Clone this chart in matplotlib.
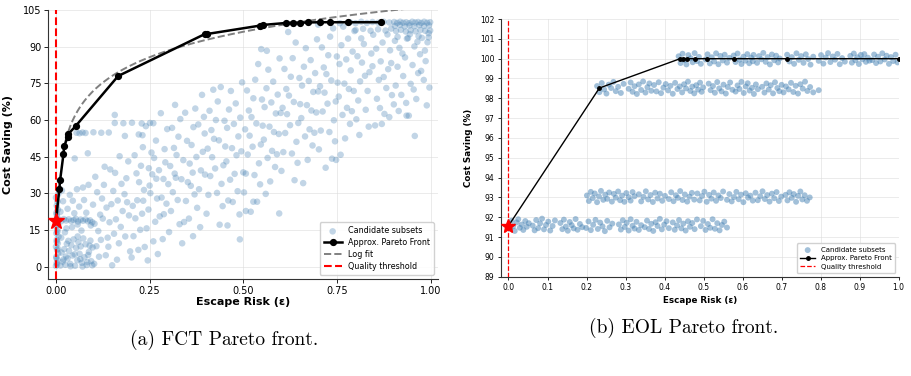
import numpy as np
import matplotlib
matplotlib.use("Agg")
import matplotlib.pyplot as plt

# ---------------- FCT panel ----------------
fct_cand = [
    # column at eps ~ 0
    (0.000, 0.3), (0.002, 1.5), (0.004, 2.8), (0.001, 4.1), (0.006, 5.5), (0.003, 6.9), (0.000, 8.2),
    (0.005, 9.6), (0.002, 11.0), (0.007, 12.3), (0.001, 13.7), (0.004, 15.1), (0.000, 16.4), (0.006, 17.2),
    (0.003, 20.5), (0.001, 22.1), (0.005, 23.4), (0.002, 25.0), (0.004, 26.6), (0.000, 28.3), (0.006, 29.7),
    (0.003, 0.9), (0.001, 3.5), (0.005, 7.4), (0.002, 10.2), (0.004, 14.3), (0.007, 18.9), (0.002, 21.4),
    # dense bottom-left
    (0.012, 0.5), (0.018, 2.1), (0.025, 0.8), (0.031, 3.4), (0.038, 1.2), (0.044, 4.6), (0.051, 0.4),
    (0.057, 2.7), (0.063, 5.3), (0.069, 1.6), (0.076, 3.9), (0.082, 0.7), (0.088, 6.1), (0.094, 2.3),
    (0.015, 5.8), (0.022, 7.2), (0.029, 9.4), (0.035, 6.5), (0.041, 8.8), (0.047, 11.2), (0.054, 7.7),
    (0.060, 10.1), (0.066, 8.3), (0.073, 11.6), (0.079, 9.2), (0.086, 4.8), (0.092, 10.7), (0.098, 7.9),
    (0.014, 11.9), (0.027, 4.2), (0.039, 0.2), (0.050, 5.1), (0.071, 0.1), (0.084, 1.9), (0.097, 0.6),
    (0.020, 3.0), (0.033, 10.6), (0.058, 12.4), (0.065, 3.1), (0.090, 8.6),
    # row near the star
    (0.008, 19.2), (0.014, 18.6), (0.021, 19.5), (0.027, 18.9), (0.034, 19.4), (0.041, 18.7), (0.047, 19.1),
    (0.053, 19.6), (0.059, 18.5), (0.066, 19.3), (0.072, 18.8), (0.079, 19.4), (0.085, 18.6), (0.091, 19.0),
    (0.097, 18.2), (0.103, 17.6),
    (0.012, 22.5), (0.019, 26.8), (0.024, 14.1), (0.031, 23.7), (0.037, 29.4), (0.043, 16.2), (0.049, 21.9),
    (0.056, 31.7), (0.062, 24.6), (0.068, 14.8), (0.075, 27.3), (0.081, 22.1), (0.087, 33.5), (0.093, 16.9),
    (0.099, 25.4), (0.016, 31.2), (0.045, 27.0), (0.072, 32.4), (0.028, 15.7), (0.058, 17.3),
    # rows at ~55 and ~59
    (0.055, 54.8), (0.063, 54.6), (0.071, 54.9), (0.079, 54.7), (0.100, 55.0), (0.121, 54.8), (0.141, 54.9),
    (0.157, 58.8), (0.180, 58.7), (0.203, 58.9), (0.229, 58.6), (0.251, 58.8), (0.260, 58.7), (0.157, 62.1),
    (0.184, 53.5), (0.221, 54.1), (0.231, 53.8),
    # 0.1 - 0.2
    (0.102, 1.2), (0.108, 8.4), (0.113, 14.6), (0.118, 21.3), (0.123, 27.9), (0.128, 33.5), (0.133, 4.7),
    (0.138, 11.9), (0.143, 18.2), (0.148, 25.6), (0.153, 31.0), (0.158, 38.4), (0.163, 2.9), (0.168, 9.6),
    (0.173, 16.3), (0.178, 22.8), (0.183, 29.7), (0.188, 36.2), (0.193, 43.1), (0.198, 6.3), (0.105, 36.8),
    (0.115, 4.1), (0.125, 19.7), (0.135, 24.2), (0.145, 39.8), (0.155, 13.5), (0.165, 27.1), (0.175, 33.9),
    (0.185, 12.4), (0.195, 21.0), (0.110, 30.5), (0.140, 8.2), (0.170, 45.2), (0.190, 26.4), (0.130, 40.9),
    (0.160, 19.4), (0.085, 46.4), (0.050, 44.3), (0.120, 11.0), (0.150, 0.6),
    # 0.2 - 0.3
    (0.202, 3.8), (0.207, 12.5), (0.212, 19.8), (0.217, 27.2), (0.222, 34.6), (0.227, 41.3), (0.232, 48.9),
    (0.237, 8.1), (0.242, 15.7), (0.247, 23.4), (0.252, 30.1), (0.257, 37.8), (0.262, 44.5), (0.267, 51.6),
    (0.272, 5.2), (0.277, 20.6), (0.282, 28.3), (0.287, 35.9), (0.292, 42.7), (0.297, 56.3), (0.205, 24.9),
    (0.215, 38.2), (0.225, 15.1), (0.235, 31.4), (0.245, 2.6), (0.255, 46.7), (0.265, 18.4), (0.275, 39.5),
    (0.285, 11.3), (0.295, 25.8), (0.210, 45.6), (0.230, 21.7), (0.250, 33.2), (0.270, 27.9), (0.290, 48.1),
    (0.240, 57.5), (0.260, 10.4), (0.280, 62.8), (0.220, 6.9), (0.300, 33.8), (0.248, 40.3), (0.268, 36.0),
    (0.288, 21.5), (0.233, 27.0),
    # 0.3 - 0.4
    (0.302, 14.2), (0.307, 22.8), (0.312, 30.5), (0.317, 38.1), (0.322, 45.7), (0.327, 53.2), (0.332, 60.4),
    (0.337, 9.6), (0.342, 18.3), (0.347, 26.9), (0.352, 34.6), (0.357, 42.2), (0.362, 49.8), (0.367, 57.1),
    (0.372, 64.7), (0.377, 24.1), (0.382, 31.7), (0.387, 39.4), (0.392, 47.0), (0.397, 54.5), (0.305, 41.2),
    (0.315, 48.6), (0.325, 27.3), (0.335, 35.8), (0.345, 63.0), (0.355, 19.7), (0.365, 38.5), (0.375, 44.9),
    (0.385, 16.2), (0.395, 61.3), (0.310, 56.8), (0.330, 17.4), (0.350, 51.5), (0.370, 29.6), (0.390, 70.3),
    (0.340, 43.6), (0.360, 33.1), (0.380, 58.2), (0.320, 36.4), (0.398, 37.7), (0.366, 12.5), (0.318, 66.2),
    # 0.4 - 0.5
    (0.402, 21.7), (0.407, 29.4), (0.412, 37.1), (0.417, 44.8), (0.422, 52.3), (0.427, 60.0), (0.432, 67.6),
    (0.437, 17.2), (0.442, 33.9), (0.447, 41.5), (0.452, 49.2), (0.457, 56.8), (0.462, 64.3), (0.467, 71.9),
    (0.472, 26.5), (0.477, 38.0), (0.482, 45.6), (0.487, 53.3), (0.492, 61.0), (0.497, 75.4), (0.405, 48.3),
    (0.415, 55.9), (0.425, 40.2), (0.435, 51.7), (0.445, 24.8), (0.455, 43.1), (0.465, 35.6), (0.475, 58.4),
    (0.485, 30.9), (0.495, 47.2), (0.410, 63.8), (0.430, 30.2), (0.450, 59.7), (0.470, 48.5), (0.490, 21.4),
    (0.440, 73.5), (0.460, 27.1), (0.480, 66.8), (0.420, 72.4), (0.491, 11.2), (0.500, 38.6), (0.458, 16.9),
    # 0.5 - 0.6
    (0.502, 30.4), (0.507, 38.1), (0.512, 45.9), (0.517, 53.6), (0.522, 61.2), (0.527, 68.9), (0.532, 76.5),
    (0.537, 26.6), (0.542, 42.3), (0.547, 50.0), (0.552, 57.7), (0.557, 65.3), (0.562, 73.0), (0.567, 80.6),
    (0.572, 34.9), (0.577, 47.4), (0.582, 55.1), (0.587, 62.7), (0.592, 70.4), (0.597, 85.2), (0.505, 56.2),
    (0.515, 63.9), (0.525, 49.1), (0.535, 58.6), (0.545, 33.7), (0.555, 52.0), (0.565, 44.5), (0.575, 67.2),
    (0.585, 40.8), (0.595, 54.3), (0.510, 72.1), (0.530, 37.5), (0.550, 68.4), (0.570, 57.3), (0.590, 46.0),
    (0.540, 82.9), (0.560, 29.8), (0.580, 75.7), (0.520, 22.5), (0.507, 22.8), (0.596, 21.8), (0.527, 26.6),
    (0.600, 62.9), (0.548, 89.0), (0.563, 88.3),
    # 0.6 - 0.7
    (0.602, 39.2), (0.607, 46.9), (0.612, 54.7), (0.617, 62.4), (0.622, 70.0), (0.627, 77.7), (0.632, 85.3),
    (0.637, 35.4), (0.642, 51.1), (0.647, 58.8), (0.652, 66.5), (0.657, 74.1), (0.662, 81.8), (0.667, 89.4),
    (0.672, 43.7), (0.677, 56.2), (0.682, 63.9), (0.687, 71.5), (0.692, 79.2), (0.697, 93.0), (0.605, 65.0),
    (0.615, 72.7), (0.625, 57.9), (0.635, 67.4), (0.645, 42.5), (0.655, 60.8), (0.665, 53.3), (0.675, 76.0),
    (0.685, 49.6), (0.695, 63.1), (0.610, 80.9), (0.630, 46.3), (0.650, 77.2), (0.670, 66.1), (0.690, 54.8),
    (0.640, 91.7), (0.660, 34.2), (0.680, 84.5), (0.620, 96.0), (0.700, 71.7),
    # 0.7 - 0.8
    (0.702, 48.0), (0.707, 55.7), (0.712, 63.5), (0.717, 71.2), (0.722, 78.8), (0.727, 86.5), (0.732, 94.1),
    (0.737, 44.2), (0.742, 59.9), (0.747, 67.6), (0.752, 75.3), (0.757, 82.9), (0.762, 90.6), (0.767, 98.2),
    (0.772, 52.5), (0.777, 65.0), (0.782, 72.7), (0.787, 80.3), (0.792, 88.0), (0.797, 96.4), (0.705, 73.8),
    (0.715, 81.5), (0.725, 66.7), (0.735, 76.2), (0.745, 51.3), (0.755, 69.6), (0.765, 62.1), (0.775, 84.8),
    (0.785, 58.4), (0.795, 71.9), (0.710, 89.7), (0.730, 55.1), (0.750, 86.0), (0.770, 74.9), (0.790, 63.6),
    (0.740, 97.5), (0.760, 45.8), (0.780, 93.3), (0.720, 40.5), (0.748, 43.7), (0.700, 99.0), (0.758, 99.6),
    # 0.8 - 0.9
    (0.802, 60.3), (0.807, 68.0), (0.812, 75.8), (0.817, 83.5), (0.822, 91.1), (0.827, 64.2), (0.832, 71.9),
    (0.837, 79.6), (0.842, 87.2), (0.847, 94.9), (0.852, 57.8), (0.857, 68.7), (0.862, 76.4), (0.867, 84.0),
    (0.872, 91.7), (0.877, 62.5), (0.882, 73.1), (0.887, 80.8), (0.892, 88.5), (0.897, 70.2), (0.805, 86.1),
    (0.815, 93.4), (0.825, 78.1), (0.835, 57.3), (0.845, 82.0), (0.855, 89.2), (0.865, 64.9), (0.875, 77.6),
    (0.885, 95.0), (0.895, 83.3), (0.810, 53.9), (0.870, 58.4), (0.890, 61.2),
    (0.785, 100.0), (0.800, 99.6), (0.815, 100.2), (0.830, 99.7), (0.845, 100.1), (0.860, 99.8), (0.875, 100.2),
    (0.890, 99.9), (0.800, 96.8), (0.820, 97.3), (0.840, 96.5), (0.860, 97.1), (0.880, 96.6), (0.895, 97.4),
    # 0.9 - 1.0
    (0.902, 66.4), (0.907, 74.1), (0.912, 81.8), (0.917, 89.5), (0.922, 70.3), (0.927, 78.0), (0.932, 85.6),
    (0.937, 93.3), (0.942, 61.8), (0.947, 74.8), (0.952, 82.5), (0.957, 90.1), (0.962, 68.6), (0.967, 79.2),
    (0.972, 86.9), (0.977, 93.6), (0.982, 76.4), (0.987, 84.1), (0.992, 91.8), (0.997, 73.3), (0.905, 92.4),
    (0.915, 63.7), (0.925, 87.2), (0.935, 67.0), (0.945, 95.1), (0.955, 72.5), (0.965, 92.0), (0.975, 80.1),
    (0.985, 88.4), (0.995, 95.5), (0.958, 53.5), (0.936, 61.8), (0.990, 66.0),
    (0.903, 100.1), (0.911, 99.7), (0.919, 100.2), (0.927, 99.8), (0.935, 100.0), (0.943, 99.6), (0.951, 100.2),
    (0.959, 99.9), (0.967, 100.1), (0.975, 99.7), (0.983, 100.2), (0.991, 99.8), (0.999, 100.0),
    (0.905, 98.5), (0.918, 98.9), (0.931, 98.3), (0.944, 98.7), (0.957, 98.4), (0.970, 98.8), (0.983, 98.5),
    (0.996, 98.7), (0.908, 96.4), (0.921, 96.9), (0.934, 96.2), (0.947, 96.7), (0.960, 96.3), (0.973, 96.8),
    (0.986, 96.5), (0.999, 96.6), (0.912, 94.0), (0.940, 93.5), (0.968, 94.3), (0.995, 93.8),
]

fct_front_x = [0.0, 0.009, 0.011, 0.020, 0.022, 0.031, 0.033, 0.053, 0.166, 0.398, 0.404,
               0.544, 0.553, 0.614, 0.634, 0.652, 0.672, 0.705, 0.731, 0.781, 0.869]
fct_front_y = [18.8, 31.7, 35.3, 46.0, 49.4, 52.9, 54.3, 57.6, 78.0, 95.2, 95.2,
               98.6, 98.9, 99.7, 99.8, 99.8, 99.9, 100.0, 100.0, 100.0, 100.0]
fct_star = (0.0, 18.8)
fct_log_a, fct_log_b = 106.5, 15.0   # y = a + b*ln(eps)

# ---------------- EOL panel ----------------
eol_cand = [
    # band ~91.6
    (0.004, 91.42), (0.008, 91.83), (0.012, 91.55), (0.016, 91.31), (0.021, 91.74), (0.025, 91.90), (0.029, 91.47),
    (0.034, 91.63), (0.038, 91.36), (0.043, 91.81), (0.047, 91.52), (0.052, 91.70),
    (0.062, 91.58), (0.067, 91.34), (0.071, 91.86), (0.076, 91.45), (0.081, 91.69), (0.086, 91.93), (0.091, 91.39),
    (0.096, 91.61), (0.102, 91.78), (0.107, 91.33), (0.113, 91.56), (0.119, 91.84),
    (0.133, 91.71), (0.138, 91.40), (0.142, 91.88), (0.147, 91.53), (0.152, 91.32), (0.157, 91.76), (0.162, 91.60),
    (0.167, 91.44), (0.172, 91.91), (0.177, 91.37), (0.183, 91.66), (0.189, 91.50),
    (0.199, 91.46), (0.205, 91.79), (0.211, 91.35), (0.217, 91.62), (0.223, 91.87), (0.229, 91.41), (0.235, 91.73),
    (0.241, 91.54), (0.247, 91.30), (0.253, 91.82), (0.259, 91.49), (0.266, 91.68),
    (0.283, 91.64), (0.288, 91.38), (0.293, 91.85), (0.298, 91.51), (0.303, 91.72), (0.308, 91.33), (0.313, 91.90),
    (0.318, 91.57), (0.323, 91.43), (0.328, 91.77), (0.334, 91.36), (0.340, 91.60),
    (0.349, 91.50), (0.355, 91.83), (0.360, 91.41), (0.366, 91.67), (0.371, 91.31), (0.377, 91.75), (0.382, 91.56),
    (0.388, 91.92), (0.393, 91.39), (0.399, 91.63), (0.405, 91.80), (0.411, 91.45),
    (0.421, 91.74), (0.426, 91.37), (0.432, 91.59), (0.437, 91.86), (0.443, 91.44), (0.448, 91.68), (0.454, 91.33),
    (0.460, 91.80), (0.465, 91.52), (0.471, 91.71), (0.477, 91.40), (0.483, 91.89),
    (0.493, 91.55), (0.499, 91.82), (0.505, 91.36), (0.511, 91.66), (0.517, 91.47), (0.523, 91.90), (0.529, 91.42),
    (0.535, 91.70), (0.541, 91.34), (0.547, 91.61), (0.553, 91.78), (0.560, 91.48),
    # band ~93.05
    (0.201, 93.10), (0.206, 92.82), (0.211, 93.28), (0.216, 92.97), (0.221, 93.20), (0.227, 92.76), (0.232, 93.05),
    (0.237, 93.33), (0.243, 92.88), (0.248, 93.14), (0.253, 92.93), (0.258, 93.25),
    (0.265, 92.79), (0.270, 93.18), (0.275, 92.99), (0.281, 93.30), (0.286, 92.86), (0.291, 93.09), (0.297, 92.78),
    (0.302, 93.22), (0.308, 93.01), (0.313, 92.84), (0.318, 93.27), (0.323, 93.06),
    (0.334, 93.16), (0.340, 92.80), (0.346, 93.03), (0.352, 93.31), (0.358, 92.90), (0.364, 93.12), (0.370, 92.77),
    (0.376, 93.24), (0.382, 92.95), (0.388, 93.19), (0.394, 92.83), (0.401, 93.08),
    (0.411, 92.92), (0.417, 93.26), (0.423, 92.81), (0.429, 93.11), (0.434, 92.98), (0.440, 93.32), (0.446, 92.87),
    (0.452, 93.15), (0.458, 92.79), (0.464, 93.04), (0.470, 93.23), (0.476, 92.89),
    (0.484, 93.20), (0.490, 92.85), (0.496, 93.07), (0.502, 93.29), (0.508, 92.78), (0.514, 93.13), (0.520, 92.94),
    (0.526, 93.25), (0.532, 92.83), (0.538, 93.10), (0.544, 92.97), (0.550, 93.30),
    (0.560, 92.88), (0.566, 93.17), (0.572, 92.80), (0.578, 93.02), (0.584, 93.28), (0.590, 92.91), (0.596, 93.14),
    (0.602, 92.76), (0.608, 93.21), (0.614, 92.99), (0.620, 93.09), (0.626, 92.84),
    (0.633, 93.24), (0.639, 92.86), (0.645, 93.06), (0.651, 93.31), (0.657, 92.92), (0.663, 93.12), (0.669, 92.79),
    (0.675, 93.19), (0.681, 92.96), (0.687, 93.27), (0.693, 92.82), (0.699, 93.04),
    (0.710, 93.13), (0.715, 92.85), (0.720, 93.26), (0.726, 92.98), (0.731, 93.17), (0.737, 92.78), (0.742, 93.08),
    (0.748, 93.30), (0.753, 92.90), (0.759, 93.11), (0.765, 92.83), (0.772, 93.00),
    # band ~98.5
    (0.227, 98.62), (0.233, 98.31), (0.239, 98.77), (0.245, 98.45), (0.251, 98.24), (0.257, 98.69), (0.263, 98.52),
    (0.269, 98.83), (0.275, 98.36), (0.281, 98.58), (0.288, 98.27), (0.295, 98.73),
    (0.308, 98.48), (0.313, 98.80), (0.318, 98.33), (0.323, 98.61), (0.329, 98.22), (0.334, 98.70), (0.340, 98.42),
    (0.345, 98.85), (0.351, 98.29), (0.356, 98.56), (0.361, 98.75), (0.366, 98.38),
    (0.373, 98.67), (0.379, 98.35), (0.385, 98.81), (0.391, 98.26), (0.397, 98.54), (0.403, 98.72), (0.409, 98.40),
    (0.415, 98.63), (0.421, 98.23), (0.427, 98.78), (0.433, 98.47), (0.439, 98.60),
    (0.445, 98.30), (0.450, 98.71), (0.455, 98.50), (0.460, 98.84), (0.466, 98.37), (0.471, 98.59), (0.476, 98.25),
    (0.481, 98.66), (0.486, 98.44), (0.491, 98.79), (0.495, 98.33), (0.499, 98.55),
    (0.513, 98.74), (0.518, 98.41), (0.524, 98.62), (0.529, 98.28), (0.535, 98.82), (0.540, 98.50), (0.546, 98.35),
    (0.551, 98.69), (0.557, 98.24), (0.562, 98.57), (0.568, 98.80), (0.574, 98.43),
    (0.582, 98.34), (0.587, 98.65), (0.592, 98.47), (0.597, 98.83), (0.603, 98.27), (0.608, 98.60), (0.613, 98.76),
    (0.618, 98.39), (0.624, 98.53), (0.629, 98.22), (0.634, 98.70), (0.639, 98.46),
    (0.650, 98.58), (0.656, 98.29), (0.661, 98.75), (0.667, 98.44), (0.672, 98.66), (0.678, 98.25), (0.683, 98.81),
    (0.689, 98.52), (0.694, 98.36), (0.700, 98.68), (0.705, 98.30), (0.711, 98.60),
    (0.718, 98.45), (0.724, 98.78), (0.730, 98.32), (0.736, 98.63), (0.742, 98.24), (0.748, 98.71), (0.754, 98.49),
    (0.760, 98.84), (0.766, 98.37), (0.773, 98.57), (0.781, 98.30), (0.795, 98.41),
    # band ~100
    (0.436, 100.12), (0.441, 99.78), (0.446, 100.25), (0.451, 99.93), (0.456, 99.71), (0.461, 100.18), (0.467, 100.02),
    (0.472, 99.82), (0.477, 100.28), (0.483, 99.88), (0.488, 100.09), (0.493, 99.74),
    (0.505, 99.96), (0.510, 100.22), (0.516, 99.76), (0.521, 100.07), (0.527, 99.86), (0.532, 100.27), (0.538, 99.72),
    (0.543, 100.14), (0.549, 99.91), (0.554, 100.20), (0.560, 99.80), (0.566, 100.04),
    (0.577, 100.16), (0.582, 99.83), (0.587, 100.26), (0.592, 99.95), (0.597, 99.73), (0.602, 100.10), (0.607, 99.90),
    (0.612, 100.23), (0.617, 99.77), (0.622, 100.05), (0.626, 99.87), (0.628, 100.19),
    (0.637, 99.79), (0.642, 100.13), (0.648, 99.97), (0.653, 100.29), (0.659, 99.84), (0.664, 100.08), (0.670, 99.71),
    (0.675, 100.21), (0.681, 99.92), (0.686, 100.15), (0.691, 99.81), (0.695, 100.01),
    (0.714, 100.20), (0.720, 99.86), (0.726, 100.08), (0.732, 99.74), (0.738, 100.27), (0.744, 99.94), (0.750, 100.13),
    (0.756, 99.79), (0.762, 100.22), (0.768, 99.98), (0.774, 99.70), (0.781, 100.10),
    (0.795, 99.89), (0.801, 100.18), (0.807, 99.75), (0.813, 100.06), (0.819, 100.28), (0.825, 99.83), (0.831, 100.11),
    (0.837, 99.95), (0.843, 100.24), (0.849, 99.72), (0.855, 100.03), (0.862, 99.85),
    (0.876, 100.14), (0.880, 99.80), (0.885, 100.26), (0.889, 99.92), (0.894, 100.07), (0.898, 99.73), (0.903, 100.19),
    (0.907, 99.97), (0.912, 100.23), (0.916, 99.84), (0.921, 100.05), (0.925, 99.90),
    (0.932, 99.93), (0.937, 100.21), (0.942, 99.78), (0.947, 100.10), (0.953, 99.86), (0.958, 100.27), (0.964, 99.96),
    (0.969, 100.15), (0.975, 99.74), (0.980, 100.08), (0.986, 99.88), (0.992, 100.20), (0.997, 99.81),
]

eol_front_x = [0.0, 0.233, 0.440, 0.446, 0.457, 0.479, 0.510, 0.577, 0.715, 1.0]
eol_front_y = [91.57, 98.52, 100.0, 100.0, 100.0, 100.0, 100.0, 100.0, 100.0, 100.0]
eol_star = (0.0, 91.57)

threshold = 0.0

# ---------------- drawing ----------------
plt.rcParams['font.family'] = 'DejaVu Sans'
blue = '#4682b4'

fig = plt.figure(figsize=(9.11, 3.76), dpi=100)
ax1 = fig.add_axes([0.0532, 0.258, 0.4276, 0.7154])
ax2 = fig.add_axes([0.5496, 0.264, 0.4369, 0.6854])

# left
c1 = np.array(fct_cand)
ax1.scatter(c1[:, 0], c1[:, 1], s=22, color=blue, alpha=0.33, edgecolors='none', label='Candidate subsets', zorder=2)
ax1.plot(fct_front_x, fct_front_y, '-o', color='black', lw=1.8, markersize=4.2, label='Approx. Pareto Front', zorder=4)
xf = np.linspace(0.025, 1.0, 300)
ax1.plot(xf, fct_log_a + fct_log_b * np.log(xf), '--', color='gray', lw=1.4, label='Log fit', zorder=3)
ax1.axvline(threshold, color='red', ls='--', lw=1.5, label='Quality threshold', zorder=3)
ax1.plot(*fct_star, marker='*', color='red', markersize=12, zorder=5, linestyle='none')
ax1.set_xlim(-0.02, 1.02)
ax1.set_ylim(-5, 105)
ax1.set_xticks([0, 0.25, 0.5, 0.75, 1.0])
ax1.set_yticks(np.arange(0, 106, 15))
ax1.tick_params(labelsize=7, length=3, width=0.6, pad=2)
ax1.set_xlabel('Escape Risk (ε)', fontsize=8, fontweight='bold')
ax1.set_ylabel('Cost Saving (%)', fontsize=8, fontweight='bold')
ax1.yaxis.set_label_coords(-0.092, 0.5)
ax1.xaxis.set_label_coords(0.5, -0.067)
ax1.grid(True, color='#dddddd', lw=0.6, alpha=0.7)
ax1.set_axisbelow(True)
ax1.legend(loc='lower right', fontsize=5.8, framealpha=0.9, handlelength=2.2, borderpad=0.5, labelspacing=0.35)

# right
c2 = np.array(eol_cand)
ax2.scatter(c2[:, 0], c2[:, 1], s=18, color=blue, alpha=0.5, edgecolors='none', label='Candidate subsets', zorder=2)
ax2.plot(eol_front_x, eol_front_y, '-o', color='black', lw=1.0, markersize=2.5, label='Approx. Pareto Front', zorder=4)
ax2.axvline(threshold, color='red', ls='--', lw=0.9, label='Quality threshold', zorder=3)
ax2.plot(*eol_star, marker='*', color='red', markersize=10, zorder=5, linestyle='none')
ax2.set_xlim(-0.02, 1.0)
ax2.set_ylim(89, 102)
ax2.set_xticks(np.arange(0, 1.01, 0.1))
ax2.set_yticks(np.arange(89, 103, 1))
ax2.tick_params(labelsize=5.5, length=2.5, width=0.6, pad=2)
ax2.set_xlabel('Escape Risk (ε)', fontsize=6.3, fontweight='bold')
ax2.set_ylabel('Cost Saving (%)', fontsize=6.3, fontweight='bold')
ax2.yaxis.set_label_coords(-0.07, 0.5)
ax2.xaxis.set_label_coords(0.5, -0.075)
ax2.grid(True, color='#dddddd', lw=0.6, alpha=0.7)
ax2.set_axisbelow(True)
ax2.legend(loc='lower right', fontsize=5, framealpha=0.9, handlelength=2.2, borderpad=0.5, labelspacing=0.35)

for ax in (ax1, ax2):
    ax.spines['top'].set_visible(False)
    ax.spines['right'].set_visible(False)
    for s in ('left', 'bottom'):
        ax.spines[s].set_linewidth(0.8)
        ax.spines[s].set_color('#333333')

fig.text(0.246, 0.096, '(a) FCT Pareto front.', ha='center', va='center', fontsize=14, family='cmr10')
fig.text(0.75, 0.128, '(b) EOL Pareto front.', ha='center', va='center', fontsize=14, family='cmr10')

fig.savefig('out.png', dpi=100)
